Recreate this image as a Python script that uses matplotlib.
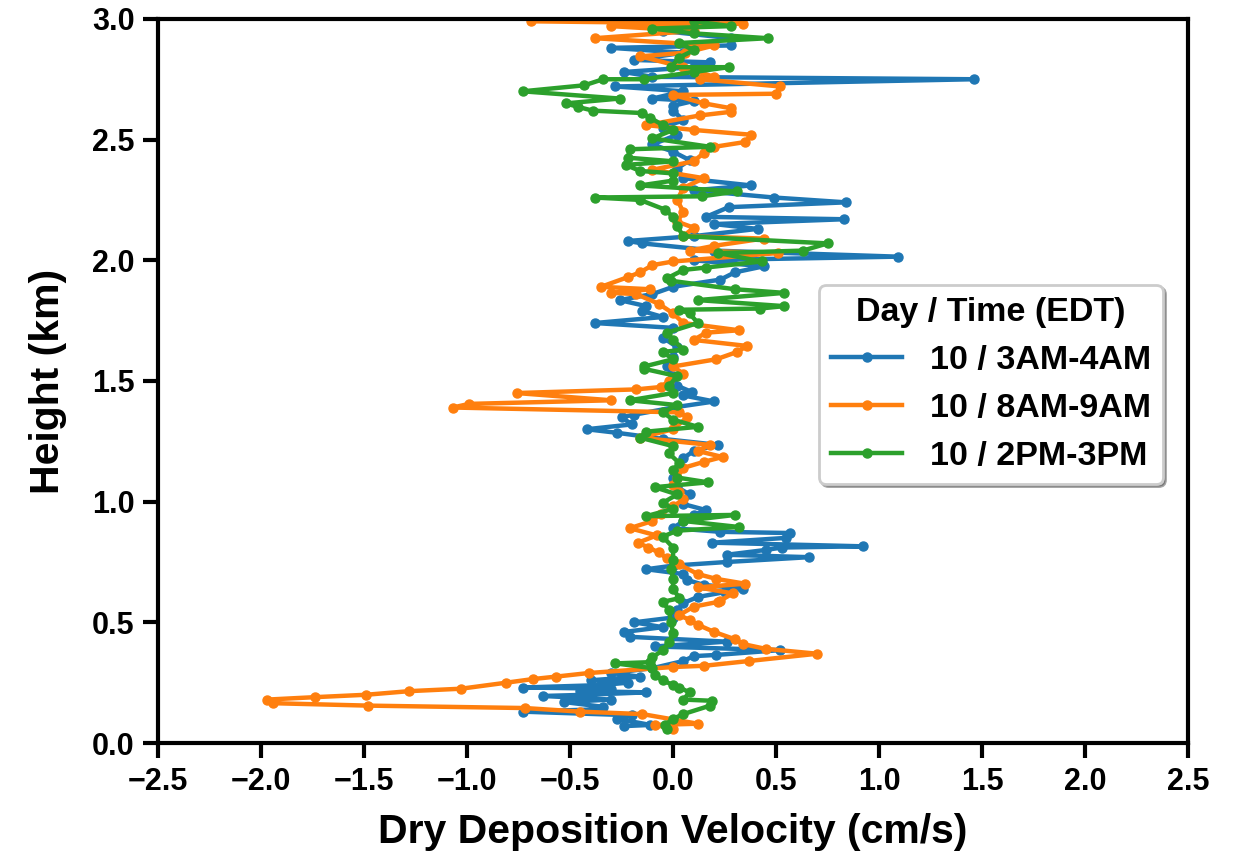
import matplotlib
matplotlib.use('Agg')
import matplotlib.pyplot as plt

plt.rcParams['font.family'] = ['Liberation Sans', 'DejaVu Sans']
plt.rcParams['font.weight'] = 'bold'

# 10 / 3AM-4AM
h_3am = [0.07,0.075,0.10,0.115,0.13,0.14,0.15,0.17,0.18,0.195,0.20,0.21,0.215,0.225,0.23,0.24,0.25,0.26,0.275,0.29,
         0.31,0.34,0.36,0.365,0.385,0.40,0.42,0.44,0.46,0.48,0.50,0.52,0.55,0.58,0.605,0.625,0.64,0.655,0.675,0.70,
         0.72,0.735,0.75,0.77,0.78,0.80,0.81,0.815,0.83,0.85,0.87,0.875,0.89,0.92,0.945,0.965,0.99,1.03,1.06,1.10,
         1.14,1.18,1.21,1.235,1.26,1.285,1.30,1.32,1.35,1.36,1.39,1.415,1.44,1.455,1.48,1.52,1.56,1.60,1.64,1.68,
         1.72,1.74,1.765,1.79,1.81,1.835,1.86,1.89,1.92,1.95,1.975,2.0,2.015,2.04,2.07,2.08,2.10,2.13,2.15,2.17,
         2.18,2.22,2.24,2.26,2.29,2.31,2.34,2.38,2.415,2.45,2.48,2.52,2.55,2.58,2.62,2.64,2.66,2.67,2.70,2.72,
         2.75,2.76,2.78,2.80,2.82,2.83,2.86,2.88,2.89,2.92,2.95,2.97,2.99]
v_3am = [-0.24,-0.11,-0.27,-0.2,-0.73,-0.35,-0.34,-0.53,-0.3,-0.63,-0.42,-0.13,-0.45,-0.3,-0.73,-0.35,-0.22,-0.4,-0.16,-0.3,
         -0.1,0.05,0.1,0.21,0.52,-0.09,0.26,-0.21,-0.24,-0.05,-0.19,0.0,0.02,0.05,0.12,0.25,0.34,0.15,0.07,0.05,
         -0.13,0.0,0.26,0.66,0.26,0.45,0.53,0.92,0.19,0.55,0.57,0.23,0.0,0.05,0.1,0.16,0.05,0.08,0.02,0.0,
         0.03,0.05,0.1,0.22,-0.05,-0.27,-0.42,-0.2,-0.25,-0.19,0.0,0.2,0.05,0.09,0.02,0.0,-0.03,0.0,0.02,-0.05,
         0.0,-0.38,-0.05,-0.15,-0.13,-0.26,-0.1,0.0,0.23,0.3,0.44,0.1,1.09,0.2,-0.15,-0.22,0.1,0.41,0.2,0.83,
         0.16,0.27,0.84,0.49,0.1,0.38,0.05,0.02,0.08,0.0,-0.1,0.02,-0.05,0.05,0.0,0.0,0.1,-0.1,0.05,-0.28,
         1.46,-0.1,-0.24,0.1,0.18,-0.19,0.05,-0.3,0.28,0.28,-0.05,0.1,0.2]

# 10 / 8AM-9AM
h_8am = [0.06,0.075,0.08,0.12,0.13,0.145,0.155,0.165,0.18,0.19,0.20,0.215,0.225,0.25,0.265,0.275,0.29,0.315,0.32,0.34,
         0.37,0.39,0.41,0.43,0.46,0.49,0.51,0.53,0.565,0.585,0.59,0.62,0.645,0.66,0.68,0.70,0.74,0.765,0.79,0.81,
         0.83,0.86,0.89,0.92,0.95,0.98,1.01,1.04,1.07,1.10,1.14,1.165,1.185,1.21,1.235,1.265,1.30,1.35,1.37,1.39,
         1.405,1.42,1.45,1.465,1.475,1.50,1.53,1.56,1.59,1.62,1.645,1.67,1.70,1.71,1.74,1.78,1.82,1.86,1.865,1.88,
         1.89,1.93,1.95,1.98,1.995,2.03,2.04,2.06,2.09,2.10,2.135,2.16,2.20,2.25,2.30,2.34,2.375,2.41,2.445,2.47,
         2.49,2.52,2.54,2.56,2.60,2.615,2.63,2.65,2.685,2.69,2.72,2.75,2.76,2.80,2.845,2.86,2.89,2.92,2.95,2.97,
         2.98,2.99]
v_8am = [0.0,-0.09,0.12,-0.15,-0.45,-0.72,-1.48,-1.94,-1.97,-1.74,-1.49,-1.28,-1.03,-0.81,-0.68,-0.57,-0.41,0.0,0.15,0.37,
         0.7,0.45,0.34,0.3,0.2,0.12,0.08,0.03,0.1,0.22,0.23,0.29,0.12,0.35,0.21,0.12,0.03,-0.03,-0.07,-0.12,
         -0.17,-0.08,-0.21,-0.1,-0.06,0.0,0.05,0.03,0.0,0.02,0.05,0.15,0.24,0.12,0.18,-0.16,0.0,0.07,0.03,-1.07,
         -0.99,-0.3,-0.76,-0.18,-0.06,-0.02,0.05,0.0,0.21,0.31,0.36,0.1,0.16,0.32,0.05,0.0,-0.07,-0.18,-0.3,-0.11,
         -0.35,-0.22,-0.16,-0.1,0.0,0.51,0.08,0.2,0.44,0.05,0.1,0.02,0.05,0.02,0.05,0.15,-0.1,0.1,0.15,0.2,
         0.35,0.38,0.1,-0.13,0.13,0.28,0.28,0.15,0.0,0.5,0.52,0.13,0.2,0.05,-0.16,0.06,0.2,-0.38,0.1,-0.3,
         0.34,-0.69]

# 10 / 2PM-3PM
h_2pm = [0.06,0.075,0.10,0.12,0.155,0.175,0.18,0.21,0.23,0.24,0.26,0.28,0.31,0.33,0.335,0.355,0.385,0.42,0.455,0.50,
         0.55,0.585,0.60,0.64,0.68,0.72,0.76,0.81,0.855,0.88,0.895,0.92,0.945,0.94,0.97,0.995,1.03,1.06,1.08,1.10,
         1.13,1.16,1.20,1.23,1.265,1.29,1.31,1.34,1.37,1.40,1.42,1.45,1.48,1.52,1.55,1.56,1.59,1.62,1.63,1.67,
         1.70,1.74,1.78,1.795,1.80,1.81,1.835,1.865,1.88,1.915,1.925,1.96,1.97,1.995,2.03,2.04,2.07,2.10,2.14,2.18,
         2.21,2.25,2.26,2.265,2.285,2.31,2.33,2.36,2.37,2.395,2.41,2.425,2.46,2.47,2.505,2.54,2.56,2.59,2.61,2.62,
         2.635,2.65,2.67,2.70,2.725,2.75,2.75,2.78,2.80,2.80,2.84,2.87,2.90,2.92,2.94,2.96,2.97,2.99]
v_2pm = [-0.03,-0.04,0.0,0.05,0.18,0.19,0.05,0.08,0.03,0.0,-0.05,-0.09,-0.1,-0.28,-0.11,-0.1,-0.05,-0.02,0.0,-0.01,
         -0.02,-0.05,0.03,0.0,0.0,-0.01,0.0,0.0,-0.05,0.02,0.32,0.05,0.3,-0.13,0.0,-0.05,0.02,-0.09,0.17,0.02,
         0.0,0.03,-0.02,0.0,-0.16,-0.13,0.12,0.0,-0.05,0.02,-0.21,0.0,-0.02,0.02,-0.14,-0.14,0.0,-0.05,0.05,0.0,
         -0.03,0.12,0.08,0.03,0.42,0.54,0.12,0.54,0.3,-0.01,-0.03,0.05,0.16,0.43,0.22,0.63,0.75,0.05,0.02,0.0,
         -0.04,-0.16,-0.38,0.14,0.31,-0.16,0.0,0.0,-0.16,-0.23,0.0,-0.22,-0.21,0.18,-0.1,0.0,-0.05,-0.11,-0.15,-0.39,
         -0.46,-0.52,-0.26,-0.73,-0.43,-0.34,-0.14,0.1,0.27,-0.01,0.03,0.1,0.03,0.46,0.1,-0.1,0.28,0.1]

labels = ['10 / 3AM-4AM', '10 / 8AM-9AM', '10 / 2PM-3PM']

fig = plt.figure(figsize=(12.35, 8.59), dpi=100)
ax = fig.add_axes([0.128, 0.135, 0.834, 0.843])

for v, h, lab in zip([v_3am, v_8am, v_2pm], [h_3am, h_8am, h_2pm], labels):
    ax.plot(v, h, marker='o', markersize=6.5, linewidth=3.2, label=lab)

ax.set_xlim(-2.5, 2.5)
ax.set_ylim(0, 3.0)
ax.set_xticks([-2.5, -2.0, -1.5, -1.0, -0.5, 0.0, 0.5, 1.0, 1.5, 2.0, 2.5])
ax.set_yticks([0.0, 0.5, 1.0, 1.5, 2.0, 2.5, 3.0])
ax.tick_params(labelsize=22, width=3, length=11, pad=6)
for s in ax.spines.values():
    s.set_linewidth(3)
ax.set_xlabel('Dry Deposition Velocity (cm/s)', fontsize=29.5, fontweight='bold', labelpad=12)
ax.set_ylabel('Height (km)', fontsize=29.5, fontweight='bold', labelpad=18)

leg = ax.legend(title='Day / Time (EDT)', loc='upper right', bbox_to_anchor=(0.982, 0.642),
                fontsize=24.5, title_fontsize=24.5, shadow=True, fancybox=True, framealpha=1,
                borderpad=0.35, handlelength=2.1, handletextpad=0.8, labelspacing=0.5,
                borderaxespad=0.2)
leg.get_title().set_fontweight('bold')
leg.get_frame().set_linewidth(2)

plt.savefig('out.png', dpi=100)
plt.close()
